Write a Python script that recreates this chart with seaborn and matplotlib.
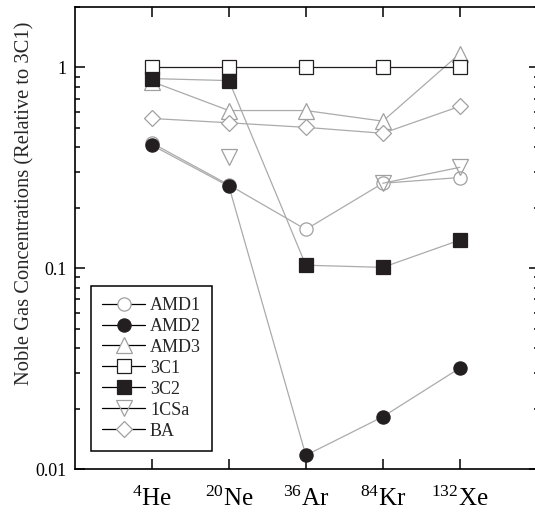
import numpy as np
import pandas as pd
import matplotlib
matplotlib.use("Agg")
import matplotlib.pyplot as plt
import seaborn as sns
from matplotlib.ticker import LogLocator, NullFormatter, FixedLocator
from matplotlib.lines import Line2D

# ---- data ----
isotopes = [r"$^{4}$He", r"$^{20}$Ne", r"$^{36}$Ar", r"$^{84}$Kr", r"$^{132}$Xe"]
amd1 = [0.42, 0.26, 0.156, 0.265, 0.283]
amd2 = [0.41, 0.256, 0.0117, 0.0182, 0.0318]
amd3 = [0.85, 0.61, 0.61, 0.54, 1.17]
c3c1 = [1.0, 1.0, 1.0, 1.0, 1.0]
c3c2 = [0.88, 0.86, 0.1035, 0.101, 0.138]
c1csa = [np.nan, 0.36, np.nan, 0.265, 0.318]
ba = [0.557, 0.53, 0.503, 0.47, 0.64]
series_names = ["AMD1", "AMD2", "AMD3", "3C1", "3C2", "1CSa", "BA"]
yticks = [0.01, 0.1, 1]
ytick_labels = ["0.01", "0.1", "1"]

sns.set_style("ticks")
plt.rcParams["font.family"] = ["Liberation Serif", "DejaVu Serif"]
plt.rcParams["mathtext.fontset"] = "custom"
plt.rcParams["mathtext.rm"] = "Liberation Serif"
plt.rcParams["mathtext.it"] = "Liberation Serif:italic"
plt.rcParams["mathtext.bf"] = "Liberation Serif:bold"

fig = plt.figure(figsize=(5.35, 5.14), dpi=100)
ax = fig.add_axes([75 / 535, 45 / 514, 464 / 535, 462 / 514])

pos = np.arange(len(isotopes))
gray = "#ababab"
edge_gray = "#a0a0a0"
ink = "#231f20"

styles = {
    "AMD1": dict(marker="o", ms=9.5, mfc="white", mec=edge_gray, color=gray),
    "AMD2": dict(marker="o", ms=9.5, mfc=ink, mec=ink, color=gray),
    "AMD3": dict(marker="^", ms=11, mfc="white", mec=edge_gray, color=gray),
    "3C1": dict(marker="s", ms=9.5, mfc="white", mec=ink, color=ink),
    "3C2": dict(marker="s", ms=9.5, mfc=ink, mec=ink, color=gray),
    "1CSa": dict(marker="v", ms=11, mfc="none", mec=edge_gray, color=gray),
    "BA": dict(marker="D", ms=8.5, mfc="white", mec=edge_gray, color=gray),
}
values = dict(zip(series_names, [amd1, amd2, amd3, c3c1, c3c2, c1csa, ba]))

for name in series_names:
    st = styles[name]
    y = np.array(values[name], dtype=float)
    df = pd.DataFrame({"x": pos, "y": y})
    # split into contiguous runs (NaN breaks the line)
    valid = ~np.isnan(y)
    runs, cur = [], []
    for i, v in enumerate(valid):
        if v:
            cur.append(i)
        elif cur:
            runs.append(cur)
            cur = []
    if cur:
        runs.append(cur)
    for run in runs:
        sub = df.iloc[run]
        sns.lineplot(data=sub, x="x", y="y", ax=ax, sort=False, errorbar=None,
                     color=st["color"], linewidth=0.9, marker=st["marker"],
                     markersize=st["ms"], markerfacecolor=st["mfc"],
                     markeredgecolor=st["mec"], markeredgewidth=0.9,
                     legend=False)

# legend
leg_handles = []
for name in series_names:
    st = styles[name]
    leg_handles.append(Line2D([], [], color="black", linewidth=0.9,
                              marker=st["marker"], markersize=st["ms"],
                              markerfacecolor=st["mfc"], markeredgecolor=st["mec"],
                              markeredgewidth=0.9))
leg = ax.legend(leg_handles, series_names, loc="lower left",
                bbox_to_anchor=(0.035, 0.04), borderaxespad=0, fontsize=13,
                frameon=True, fancybox=False, framealpha=1, edgecolor="black",
                handlelength=2.4, handletextpad=0.25, labelspacing=0.22,
                borderpad=0.6)
leg.get_frame().set_linewidth(1.1)

ax.set_yscale("log")
ax.set_ylim(0.01, 2.0)
ax.set_xlim(-1, 5.03)
ax.set_xticks(pos)
ax.set_xticklabels(isotopes, fontsize=18)
ax.yaxis.set_major_locator(FixedLocator(yticks))
ax.set_yticklabels(ytick_labels, fontsize=13)
ax.yaxis.set_minor_locator(LogLocator(base=10, subs=np.arange(2, 10)))
ax.yaxis.set_minor_formatter(NullFormatter())
ax.set_xlabel("")
ax.set_ylabel("Noble Gas Concentrations (Relative to 3C1)", fontsize=14.8)
ax.yaxis.set_label_coords(-0.087, 0.576)

ax.tick_params(axis="both", which="both", direction="in", colors="black",
               top=True, right=True, width=1.1)
ax.tick_params(axis="both", which="major", length=7)
ax.tick_params(axis="both", which="minor", length=3.5)
ax.tick_params(axis="x", pad=13)
ax.tick_params(axis="y", pad=6)
for sp in ax.spines.values():
    sp.set_linewidth(1.2)
    sp.set_color("black")
    sp.set_visible(True)

fig.savefig("out.png", dpi=100)
